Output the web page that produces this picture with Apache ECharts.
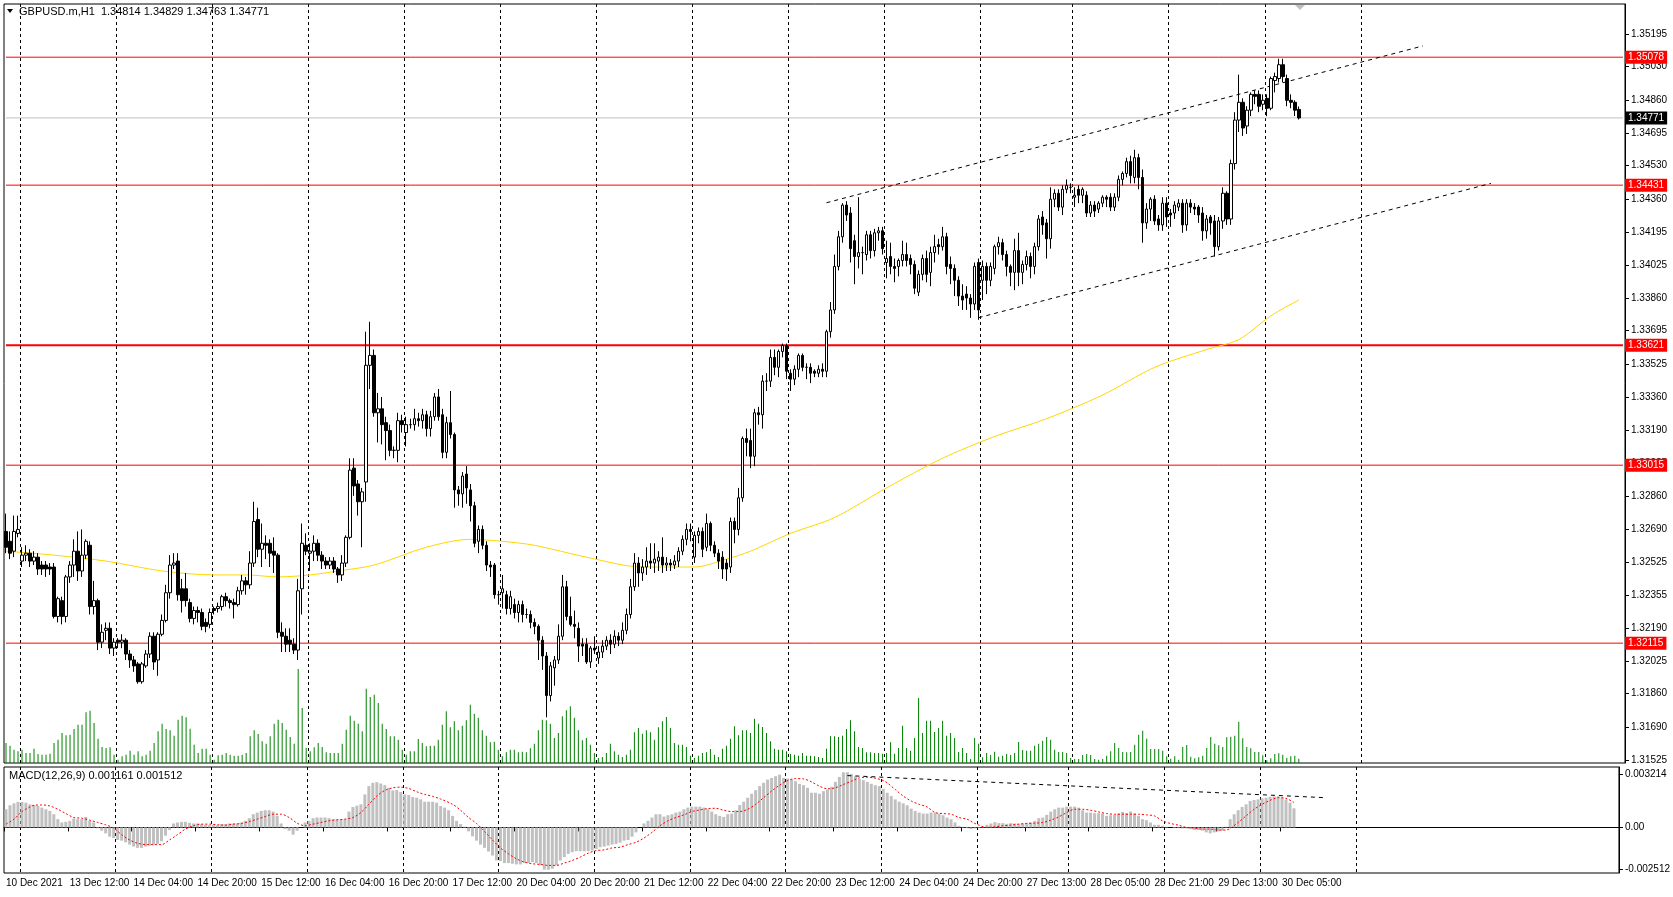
<!DOCTYPE html>
<html><head><meta charset="utf-8">
<script src="https://cdn.jsdelivr.net/npm/echarts@6/dist/echarts.min.js"></script>
<style>html,body{margin:0;padding:0;background:#fff;}#c{width:1673px;height:897px;}</style>
</head><body><div id="c"></div>
<script>
// ---- DATA ----
// candles: [open, close, low, high]
const candles = [
[1.3268,1.3260,1.3257,1.3277],[1.3263,1.3257,1.3254,1.3268],[1.3258,1.3268,1.3255,1.3276],[1.3267,1.3269,1.3265,1.3276],
[1.3253,1.3256,1.3250,1.3260],[1.3256,1.3257,1.3253,1.3261],[1.3257,1.3253,1.3250,1.3259],[1.3253,1.3255,1.3251,1.3258],
[1.3255,1.3249,1.3246,1.3257],[1.3251,1.3249,1.3246,1.3253],[1.3251,1.3249,1.3245,1.3253],[1.3250,1.3249,1.3246,1.3252],
[1.3250,1.3225,1.3224,1.3252],[1.3225,1.3234,1.3222,1.3235],[1.3233,1.3225,1.3221,1.3235],[1.3225,1.3245,1.3222,1.3246],
[1.3245,1.3251,1.3242,1.3253],[1.3251,1.3258,1.3245,1.3264],[1.3258,1.3248,1.3243,1.3268],[1.3248,1.3256,1.3245,1.3269],
[1.3256,1.3263,1.3254,1.3264],[1.3261,1.3230,1.3226,1.3263],[1.3230,1.3233,1.3226,1.3243],[1.3233,1.3212,1.3208,1.3234],
[1.3212,1.3217,1.3209,1.3221],[1.3218,1.3219,1.3213,1.3222],[1.3219,1.3209,1.3206,1.3222],[1.3209,1.3212,1.3205,1.3214],
[1.3213,1.3212,1.3209,1.3214],[1.3212,1.3213,1.3209,1.3216],[1.3213,1.3206,1.3203,1.3214],[1.3206,1.3203,1.3199,1.3208],
[1.3203,1.3200,1.3197,1.3205],[1.3201,1.3192,1.3191,1.3202],[1.3192,1.3201,1.3191,1.3202],[1.3200,1.3206,1.3199,1.3208],
[1.3206,1.3215,1.3204,1.3217],[1.3215,1.3202,1.3198,1.3217],[1.3203,1.3216,1.3195,1.3217],[1.3216,1.3223,1.3215,1.3226],
[1.3223,1.3237,1.3222,1.3241],[1.3237,1.3251,1.3234,1.3256],[1.3251,1.3252,1.3249,1.3257],[1.3253,1.3236,1.3233,1.3257],
[1.3239,1.3233,1.3227,1.3244],[1.3239,1.3233,1.3230,1.3247],[1.3232,1.3224,1.3222,1.3234],[1.3224,1.3228,1.3221,1.3230],
[1.3228,1.3227,1.3222,1.3230],[1.3227,1.3220,1.3218,1.3229],[1.3222,1.3220,1.3217,1.3224],[1.3221,1.3227,1.3219,1.3229],
[1.3229,1.3228,1.3226,1.3230],[1.3229,1.3230,1.3227,1.3232],[1.3230,1.3235,1.3228,1.3236],[1.3235,1.3233,1.3230,1.3237],
[1.3233,1.3232,1.3229,1.3234],[1.3232,1.3231,1.3224,1.3234],[1.3231,1.3238,1.3230,1.3240],[1.3238,1.3243,1.3236,1.3246],
[1.3243,1.3241,1.3236,1.3245],[1.3241,1.3252,1.3239,1.3258],[1.3252,1.3273,1.3250,1.3283],[1.3274,1.3259,1.3255,1.3280],
[1.3259,1.3262,1.3250,1.3272],[1.3262,1.3261,1.3254,1.3266],[1.3262,1.3257,1.3250,1.3264],[1.3258,1.3256,1.3247,1.3265],
[1.3256,1.3217,1.3214,1.3257],[1.3217,1.3215,1.3207,1.3222],[1.3215,1.3211,1.3207,1.3219],[1.3213,1.3211,1.3207,1.3219],
[1.3211,1.3208,1.3206,1.3214],[1.3208,1.3238,1.3203,1.3244],[1.3239,1.3262,1.3226,1.3272],[1.3261,1.3258,1.3256,1.3267],
[1.3257,1.3258,1.3248,1.3262],[1.3258,1.3262,1.3253,1.3266],[1.3262,1.3256,1.3253,1.3264],[1.3256,1.3253,1.3249,1.3258],
[1.3253,1.3251,1.3249,1.3255],[1.3251,1.3253,1.3249,1.3255],[1.3253,1.3249,1.3247,1.3255],[1.3249,1.3246,1.3242,1.3250],
[1.3246,1.3252,1.3243,1.3256],[1.3252,1.3265,1.3250,1.3266],[1.3265,1.3299,1.3264,1.3305],[1.3300,1.3291,1.3286,1.3305],
[1.3292,1.3283,1.3276,1.3294],[1.3283,1.3288,1.3260,1.3290],[1.3293,1.3352,1.3283,1.3369],[1.3352,1.3357,1.3340,1.3374],
[1.3357,1.3328,1.3326,1.3360],[1.3328,1.3330,1.3313,1.3338],[1.3330,1.3322,1.3312,1.3336],[1.3323,1.3319,1.3304,1.3326],
[1.3319,1.3309,1.3306,1.3322],[1.3309,1.3309,1.3305,1.3311],[1.3309,1.3324,1.3303,1.3328],[1.3324,1.3322,1.3318,1.3327],
[1.3318,1.3322,1.3311,1.3326],[1.3322,1.3322,1.3320,1.3325],[1.3322,1.3325,1.3319,1.3330],[1.3325,1.3324,1.3321,1.3328],
[1.3324,1.3327,1.3320,1.3330],[1.3327,1.3320,1.3316,1.3329],[1.3320,1.3326,1.3316,1.3329],[1.3326,1.3336,1.3324,1.3338],
[1.3336,1.3326,1.3324,1.3340],[1.3327,1.3308,1.3305,1.3330],[1.3308,1.3323,1.3305,1.3326],[1.3323,1.3317,1.3315,1.3339],
[1.3317,1.3289,1.3280,1.3318],[1.3289,1.3287,1.3281,1.3291],[1.3287,1.3296,1.3280,1.3298],[1.3297,1.3290,1.3282,1.3301],
[1.3289,1.3281,1.3273,1.3292],[1.3281,1.3262,1.3260,1.3283],[1.3263,1.3269,1.3257,1.3271],[1.3269,1.3261,1.3259,1.3271],
[1.3261,1.3251,1.3248,1.3263],[1.3251,1.3250,1.3245,1.3253],[1.3251,1.3236,1.3234,1.3252],[1.3236,1.3236,1.3231,1.3238],
[1.3237,1.3239,1.3229,1.3246],[1.3236,1.3229,1.3226,1.3238],[1.3229,1.3235,1.3226,1.3238],[1.3231,1.3227,1.3224,1.3234],
[1.3227,1.3231,1.3222,1.3233],[1.3231,1.3226,1.3222,1.3233],[1.3226,1.3226,1.3224,1.3229],[1.3226,1.3222,1.3219,1.3228],
[1.3222,1.3220,1.3216,1.3224],[1.3220,1.3213,1.3203,1.3221],[1.3213,1.3205,1.3198,1.3215],[1.3205,1.3185,1.3174,1.3207],
[1.3185,1.3200,1.3182,1.3202],[1.3199,1.3203,1.3190,1.3205],[1.3203,1.3215,1.3201,1.3221],[1.3215,1.3240,1.3213,1.3246],
[1.3240,1.3225,1.3223,1.3243],[1.3225,1.3221,1.3220,1.3235],[1.3221,1.3220,1.3214,1.3228],[1.3219,1.3210,1.3202,1.3222],
[1.3211,1.3210,1.3205,1.3214],[1.3211,1.3202,1.3201,1.3214],[1.3202,1.3209,1.3199,1.3210],[1.3209,1.3208,1.3206,1.3215],
[1.3204,1.3207,1.3201,1.3210],[1.3207,1.3210,1.3204,1.3213],[1.3210,1.3213,1.3208,1.3215],[1.3213,1.3211,1.3206,1.3216],
[1.3211,1.3215,1.3209,1.3218],[1.3215,1.3213,1.3210,1.3217],[1.3213,1.3218,1.3211,1.3222],[1.3218,1.3226,1.3216,1.3229],
[1.3226,1.3240,1.3224,1.3244],[1.3240,1.3252,1.3238,1.3257],[1.3252,1.3247,1.3240,1.3255],[1.3247,1.3250,1.3243,1.3254],
[1.3250,1.3253,1.3246,1.3260],[1.3253,1.3252,1.3249,1.3262],[1.3252,1.3254,1.3247,1.3262],[1.3253,1.3255,1.3248,1.3258],
[1.3255,1.3251,1.3247,1.3265],[1.3251,1.3252,1.3248,1.3255],[1.3252,1.3251,1.3248,1.3254],[1.3251,1.3253,1.3249,1.3256],
[1.3253,1.3258,1.3250,1.3260],[1.3258,1.3264,1.3256,1.3266],[1.3264,1.3269,1.3261,1.3272],[1.3269,1.3268,1.3263,1.3272],
[1.3255,1.3266,1.3252,1.3268],[1.3266,1.3268,1.3262,1.3270],[1.3268,1.3259,1.3255,1.3270],[1.3260,1.3272,1.3258,1.3277],
[1.3272,1.3261,1.3258,1.3273],[1.3261,1.3257,1.3255,1.3263],[1.3257,1.3253,1.3249,1.3259],[1.3255,1.3249,1.3244,1.3258],
[1.3252,1.3249,1.3243,1.3254],[1.3250,1.3273,1.3247,1.3275],[1.3273,1.3269,1.3262,1.3275],[1.3269,1.3285,1.3266,1.3290],
[1.3285,1.3315,1.3283,1.3316],[1.3315,1.3313,1.3306,1.3320],[1.3314,1.3306,1.3300,1.3320],[1.3306,1.3328,1.3301,1.3330],
[1.3328,1.3327,1.3322,1.3331],[1.3327,1.3344,1.3320,1.3347],[1.3344,1.3344,1.3339,1.3348],[1.3344,1.3356,1.3341,1.3360],
[1.3356,1.3351,1.3347,1.3360],[1.3351,1.3359,1.3346,1.3360],[1.3359,1.3362,1.3356,1.3363],[1.3362,1.3349,1.3345,1.3363],
[1.3348,1.3345,1.3339,1.3350],[1.3345,1.3350,1.3342,1.3352],[1.3350,1.3357,1.3346,1.3358],[1.3357,1.3351,1.3349,1.3358],
[1.3351,1.3351,1.3345,1.3353],[1.3351,1.3348,1.3343,1.3353],[1.3349,1.3348,1.3346,1.3350],[1.3348,1.3350,1.3346,1.3352],
[1.3350,1.3349,1.3346,1.3353],[1.3349,1.3369,1.3346,1.3370],[1.3369,1.3380,1.3366,1.3384],[1.3380,1.3402,1.3378,1.3408],
[1.3402,1.3417,1.3400,1.3420],[1.3417,1.3433,1.3414,1.3434],[1.3433,1.3428,1.3425,1.3435],[1.3429,1.3411,1.3404,1.3432],
[1.3415,1.3407,1.3393,1.3418],[1.3407,1.3409,1.3401,1.3437],[1.3409,1.3409,1.3398,1.3412],[1.3408,1.3418,1.3405,1.3420],
[1.3418,1.3410,1.3406,1.3420],[1.3410,1.3419,1.3407,1.3421],[1.3419,1.3420,1.3415,1.3422],[1.3420,1.3411,1.3408,1.3422],
[1.3404,1.3406,1.3396,1.3415],[1.3407,1.3402,1.3398,1.3414],[1.3402,1.3401,1.3394,1.3406],[1.3402,1.3405,1.3397,1.3406],
[1.3405,1.3408,1.3402,1.3415],[1.3408,1.3405,1.3402,1.3414],[1.3406,1.3403,1.3398,1.3408],[1.3403,1.3391,1.3388,1.3405],
[1.3389,1.3398,1.3387,1.3400],[1.3398,1.3406,1.3395,1.3408],[1.3406,1.3398,1.3394,1.3410],[1.3399,1.3409,1.3392,1.3412],
[1.3409,1.3412,1.3404,1.3418],[1.3413,1.3412,1.3408,1.3416],[1.3412,1.3417,1.3410,1.3422],[1.3417,1.3402,1.3398,1.3419],
[1.3403,1.3401,1.3393,1.3407],[1.3401,1.3395,1.3387,1.3403],[1.3395,1.3387,1.3382,1.3397],[1.3387,1.3385,1.3380,1.3393],
[1.3388,1.3386,1.3380,1.3392],[1.3386,1.3383,1.3376,1.3388],[1.3383,1.3402,1.3380,1.3404],[1.3404,1.3380,1.3375,1.3406],
[1.3395,1.3402,1.3385,1.3405],[1.3402,1.3395,1.3388,1.3404],[1.3395,1.3402,1.3392,1.3404],[1.3401,1.3412,1.3398,1.3413],
[1.3412,1.3414,1.3408,1.3417],[1.3414,1.3408,1.3405,1.3416],[1.3408,1.3402,1.3397,1.3410],[1.3402,1.3399,1.3392,1.3403],
[1.3399,1.3410,1.3390,1.3416],[1.3410,1.3399,1.3392,1.3419],[1.3399,1.3403,1.3393,1.3405],[1.3403,1.3407,1.3400,1.3410],
[1.3407,1.3402,1.3396,1.3409],[1.3402,1.3412,1.3398,1.3414],[1.3412,1.3426,1.3410,1.3428],[1.3427,1.3423,1.3418,1.3430],
[1.3424,1.3416,1.3406,1.3426],[1.3416,1.3436,1.3411,1.3442],[1.3436,1.3439,1.3432,1.3441],[1.3439,1.3432,1.3430,1.3441],
[1.3432,1.3441,1.3428,1.3443],[1.3441,1.3443,1.3439,1.3446],[1.3442,1.3442,1.3439,1.3444],[1.3437,1.3438,1.3432,1.3442],
[1.3441,1.3438,1.3434,1.3443],[1.3438,1.3441,1.3434,1.3442],[1.3438,1.3429,1.3427,1.3440],[1.3429,1.3433,1.3427,1.3435],
[1.3433,1.3430,1.3427,1.3435],[1.3431,1.3434,1.3429,1.3435],[1.3434,1.3437,1.3432,1.3438],[1.3437,1.3436,1.3432,1.3438],
[1.3437,1.3432,1.3430,1.3439],[1.3432,1.3437,1.3430,1.3439],[1.3437,1.3446,1.3435,1.3448],[1.3446,1.3449,1.3443,1.3450],
[1.3449,1.3455,1.3447,1.3457],[1.3455,1.3448,1.3444,1.3458],[1.3447,1.3457,1.3444,1.3461],[1.3457,1.3447,1.3441,1.3459],
[1.3447,1.3424,1.3414,1.3451],[1.3424,1.3431,1.3421,1.3434],[1.3431,1.3436,1.3425,1.3437],[1.3436,1.3425,1.3423,1.3438],
[1.3426,1.3423,1.3420,1.3428],[1.3423,1.3434,1.3420,1.3437],[1.3434,1.3427,1.3422,1.3437],[1.3429,1.3428,1.3422,1.3431],
[1.3429,1.3433,1.3426,1.3435],[1.3432,1.3434,1.3430,1.3436],[1.3434,1.3423,1.3419,1.3436],[1.3423,1.3434,1.3420,1.3436],
[1.3434,1.3432,1.3429,1.3436],[1.3432,1.3431,1.3428,1.3434],[1.3432,1.3428,1.3424,1.3433],[1.3429,1.3420,1.3415,1.3432],
[1.3420,1.3426,1.3416,1.3428],[1.3427,1.3424,1.3418,1.3428],[1.3425,1.3412,1.3407,1.3428],[1.3412,1.3425,1.3410,1.3427],
[1.3425,1.3439,1.3421,1.3442],[1.3439,1.3426,1.3423,1.3440],[1.3426,1.3454,1.3423,1.3456],[1.3454,1.3476,1.3451,1.3480],
[1.3476,1.3485,1.3470,1.3499],[1.3485,1.3472,1.3468,1.3487],[1.3473,1.3481,1.3469,1.3483],[1.3481,1.3489,1.3478,1.3490],
[1.3489,1.3488,1.3484,1.3491],[1.3489,1.3483,1.3480,1.3491],[1.3484,1.3486,1.3481,1.3489],[1.3487,1.3482,1.3478,1.3489],
[1.3482,1.3497,1.3481,1.3498],[1.3496,1.3498,1.3490,1.3500],[1.3497,1.3504,1.3495,1.3507],[1.3504,1.3498,1.3495,1.3507],
[1.3497,1.3486,1.3483,1.3499],[1.3486,1.3485,1.3482,1.3489],[1.3485,1.3481,1.3478,1.3486],[1.34814,1.34771,1.34763,1.34829]
];
const volumes = [
60,52,40,35,40,30,30,43,27,25,25,28,60,70,90,83,85,102,115,115,152,157,120,73,48,45,47,25,10,20,25,37,25,35,20,25,37,60,95,118,
102,98,82,130,142,137,103,55,30,43,43,25,10,23,25,30,25,22,22,25,30,80,98,87,65,58,80,118,130,120,100,78,58,282,165,45,35,47,60,48,
32,30,30,30,58,100,142,127,118,95,223,198,205,180,118,102,80,80,70,40,25,35,35,72,60,50,52,52,70,115,155,
107,125,98,112,128,175,148,136,98,82,62,64,40,20,32,40,40,32,34,32,44,58,98,130,128,118,75,90,140,158,170,136,98,68,75,55,30,15,18,30,
58,35,25,18,25,40,92,105,88,98,92,70,107,125,138,105,60,55,55,48,22,15,22,30,32,42,25,18,43,52,73,110,83,98,98,90,133,118,108,90,
65,43,40,40,35,27,25,22,30,22,22,20,18,15,43,80,80,78,82,102,128,95,48,45,32,32,30,30,28,30,62,
28,45,112,45,37,75,195,90,127,127,93,105,127,82,90,75,33,45,30,12,75,58,17,30,24,34,19,22,27,24,30,63,39,37,37,52,58,67,78,70,
40,33,33,30,15,12,12,24,27,24,12,10,12,22,35,60,45,33,32,33,55,85,97,73,42,42,42,37,20,13,20,10,48,54,19,14,17,22,45,78,
58,53,48,77,79,82,124,74,48,44,33,33,23,8,14,27,29,25,15,20,22,13
];
// MACD histogram and signal, in units of 0.00001
const macdHistE5 = [
110,134,146,154,154,150,140,136,130,120,110,100,80,50,30,34,40,54,50,50,64,40,30,-6,-20,-36,-56,-64,-76,-80,
-90,-104,-116,-124,-124,-116,-110,-104,-100,-84,-50,-16,24,30,34,34,28,24,24,20,16,14,16,14,20,20,24,24,24,30,
40,56,80,90,100,104,104,96,70,24,-10,-20,-44,-20,0,30,40,56,60,60,60,56,50,50,48,50,96,124,132,140,
200,250,270,274,266,256,240,224,226,214,200,196,184,180,170,156,156,156,150,130,120,
104,70,40,20,4,-24,-54,-80,-104,-124,-146,-170,-200,-204,-216,-216,-220,-224,-224,-216,-216,-210,-216,-230,-256,-256,-250,-230,-200,-180,
-160,-150,-144,-144,-144,-144,-140,-130,-120,-116,-110,-104,-100,-92,-80,-76,-56,-30,0,24,40,60,80,80,66,74,80,90,96,110,
120,126,126,126,120,110,96,80,70,64,80,84,104,136,156,180,204,226,250,270,290,300,310,320,300,296,290,280,264,256,
240,210,210,204,220,230,246,276,306,334,334,324,310,294,286,276,264,256,250,234,210,
190,170,156,146,134,114,100,90,84,84,90,90,84,74,60,50,30,10,4,-4,-10,-6,-4,4,16,24,32,26,26,22,
26,24,22,24,28,30,40,56,60,76,96,110,120,120,126,126,126,120,104,90,90,86,86,84,70,74,76,84,94,86,
96,84,70,50,44,30,16,16,10,4,0,-4,-4,-6,-6,-10,-16,-16,-20,-30,-36,-30,-24,-20,4,50,80,104,124,140,
160,166,170,176,180,186,188,188,180,170,150,116
];
const signalPtsE5 = [
[0,20],[2,50],[4,96],[6,124],[7,134],[9,136],[11,130],[13,110],[15,84],[17,60],[19,56],[21,44],[23,30],[25,16],[27,-4],[29,-44],
[31,-76],[33,-96],[35,-104],[37,-104],[39,-104],[41,-76],[43,-44],[45,-10],[47,10],[49,20],[51,20],[53,16],[55,14],[57,20],[59,24],
[61,36],[63,50],[65,66],[67,80],[69,80],[71,60],[73,26],[75,10],[77,20],[79,30],[81,40],[83,46],[85,50],[87,60],[89,90],[91,140],
[93,190],[95,224],[97,240],[99,244],[101,236],[103,216],[105,200],[107,188],[109,172],[112,140],[114,104],[116,60],[118,24],[120,-24],
[122,-76],[124,-124],[126,-160],[128,-190],[130,-210],[132,-220],[134,-224],[136,-230],[138,-230],[140,-216],[142,-200],[144,-180],
[146,-156],[148,-140],[150,-136],[152,-124],[154,-120],[156,-104],[158,-90],[160,-64],[162,-30],[164,10],[166,40],[168,60],[170,76],
[172,96],[174,106],[176,114],[178,116],[180,104],[182,96],[184,96],[186,110],[188,140],[190,180],[192,220],[194,256],[196,284],
[198,296],[200,294],[202,276],[204,250],[206,234],[208,240],[210,260],[212,280],[214,300],[216,304],[218,298],[220,284],[221,270],
[223,230],[225,190],[227,160],[229,140],[231,124],[233,90],[235,84],[237,80],[239,60],[241,50],[243,24],[246,0],[248,4],[250,10],
[252,14],[254,20],[256,24],[258,26],[260,30],[262,44],[264,64],[266,90],[268,110],[270,110],[272,104],[274,94],[276,84],[278,80],
[280,80],[282,80],[284,80],[286,76],[288,70],[290,40],[292,24],[294,14],[296,0],[298,-4],[300,-10],[302,-10],[304,-16],[306,-16],
[307,-6],[309,30],[311,70],[313,110],[315,140],[317,164],[319,180],[321,176],[323,151]
];
const maPts = [[0,1.3258],[12,1.3256],[25,1.3253],[39,1.3248],[52,1.3246],[60,1.3246],[68,1.3245],[76,1.3246],[83,1.3248],[92,1.3251],
[105,1.3260],[116,1.3264],[124,1.3263],[132,1.3261],[145,1.3255],[159,1.3250],[172,1.3250],[180,1.3254],[186,1.3258],[196,1.3267],
[207,1.3275],[220,1.3290],[234,1.3305],[247,1.3316],[260,1.3325],[274,1.3337],[287,1.3351],[300,1.3360],[308,1.3365],[316,1.3377],[323,1.3385]];
const trendUpper = [[205,1.34342],[354,1.35135]];
const trendLower = [[243,1.33761],[371,1.34440]];
const macdTrendE5 = [[211,314],[331,180]];
const redLevels = [1.35078,1.34431,1.33621,1.33015,1.32115];
const redWidths = [1,1,2,1,1];
const currentPrice = 1.34771;
const priceTicks = [1.35195,1.35030,1.34860,1.34695,1.34530,1.34360,1.34195,1.34025,1.33860,1.33695,1.33525,1.33360,1.33190,1.33025,1.32860,1.32690,1.32525,1.32355,1.32190,1.32025,1.31860,1.31690,1.31525];
const macdTicksE5 = [321.4,0,-251.2];
const dateLabels = ['10 Dec 2021','13 Dec 12:00','14 Dec 04:00','14 Dec 20:00','15 Dec 12:00','16 Dec 04:00','16 Dec 20:00','17 Dec 12:00','20 Dec 04:00','20 Dec 20:00','21 Dec 12:00','22 Dec 04:00','22 Dec 20:00','23 Dec 12:00','24 Dec 04:00','24 Dec 20:00','27 Dec 13:00','28 Dec 05:00','28 Dec 21:00','29 Dec 13:00','30 Dec 05:00'];
const daySeparators = [4,28,52,76,100,124,148,172,196,220,244,267,291,315,339];

// ---- CHART ----
const SLOTS = 405;
const cats = Array.from({length: SLOTS}, (_, i) => String(i));
const daySet = new Set(daySeparators);
const E5 = 1e-5;
const font = 'Liberation Sans';
const levelSeries = (v, color, w, bg) => ({
  type: 'line', xAxisIndex: 0, yAxisIndex: 0, data: [[0, v], [SLOTS - 1, v]], showSymbol: false, silent: true, z: 1,
  lineStyle: {color: color, width: w},
  endLabel: {show: true, distance: 2, formatter: v.toFixed(5), color: '#fff', backgroundColor: bg, padding: [2, 3, 1, 3], fontSize: 10, fontFamily: font}
});
const chart = echarts.init(document.getElementById('c'), null, {renderer: 'canvas'});
const splitL = {show: true, interval: (i) => daySet.has(i), lineStyle: {color: '#000', type: [3, 3], width: 1}};
const series = [
  {type: 'bar', name: 'vol', xAxisIndex: 0, yAxisIndex: 1, data: volumes, barWidth: 1, itemStyle: {color: '#008000'}, silent: true},
  levelSeries(currentPrice, '#c0c0c0', 1, '#000'),
  ...redLevels.map((v, i) => levelSeries(v, '#ff0000', redWidths[i], '#ff0000')),
  {type: 'line', name: 'ma', xAxisIndex: 0, yAxisIndex: 0, data: maPts, showSymbol: false, smooth: 0.3, lineStyle: {color: '#ffd700', width: 1}, silent: true},
  {type: 'candlestick', xAxisIndex: 0, yAxisIndex: 0, data: candles, barWidth: 3, z: 3,
   itemStyle: {color: '#ffffff', color0: '#000000', borderColor: '#000000', borderColor0: '#000000', borderWidth: 1}},
  {type: 'line', xAxisIndex: 0, yAxisIndex: 0, data: trendUpper, showSymbol: false, lineStyle: {color: '#000', width: 1, type: [4, 4]}, silent: true},
  {type: 'line', xAxisIndex: 0, yAxisIndex: 0, data: trendLower, showSymbol: false, lineStyle: {color: '#000', width: 1, type: [4, 4]}, silent: true},
  {type: 'bar', xAxisIndex: 1, yAxisIndex: 2, data: macdHistE5, barWidth: 3, itemStyle: {color: '#c0c0c0'}, silent: true},
  {type: 'line', xAxisIndex: 1, yAxisIndex: 2, data: signalPtsE5, showSymbol: false, smooth: 0.3, lineStyle: {color: '#ff0000', width: 1, type: [2, 2]}, silent: true},
  {type: 'line', xAxisIndex: 1, yAxisIndex: 2, data: macdTrendE5, showSymbol: false, lineStyle: {color: '#000', width: 1, type: [4, 4]}, silent: true}
];
chart.setOption({
  animation: false,
  backgroundColor: '#fff',
  grid: [
    {left: 4, top: 4, width: 1621, height: 759, show: true, borderColor: '#000', borderWidth: 1},
    {left: 4, top: 767, width: 1621, height: 106, show: true, borderColor: '#000', borderWidth: 1}
  ],
  xAxis: [
    {type: 'category', gridIndex: 0, data: cats, boundaryGap: true, axisLine: {show: false}, axisTick: {show: false}, axisLabel: {show: false}, splitLine: splitL},
    {type: 'category', gridIndex: 1, data: cats, boundaryGap: true, axisLine: {show: true, lineStyle: {color: '#000'}},
     axisTick: {show: true, interval: (i) => i % 16 === 0 && i <= 320, length: 4, lineStyle: {color: '#000'}},
     axisLabel: {show: true, hideOverlap: false, interval: (i) => i % 16 === 0 && i <= 320, formatter: (v, i) => dateLabels[Math.round(+v / 16)] || '', align: 'left', margin: 5, fontSize: 10, fontFamily: font, color: '#000'},
     splitLine: splitL}
  ],
  yAxis: [
    {type: 'value', gridIndex: 0, position: 'right', min: 1.31509, max: 1.35347,
     axisLine: {show: true, lineStyle: {color: '#000'}}, splitLine: {show: false},
     axisTick: {show: true, customValues: priceTicks, length: 4, lineStyle: {color: '#000'}},
     axisLabel: {customValues: priceTicks, formatter: (v) => v.toFixed(5), fontSize: 10, fontFamily: font, color: '#000', margin: 6}},
    {type: 'value', gridIndex: 0, min: 0, max: 2277, show: false, splitLine: {show: false}},
    {type: 'value', gridIndex: 1, position: 'right', min: -276, max: 366,
     axisLine: {show: true, lineStyle: {color: '#000'}}, splitLine: {show: false},
     axisTick: {show: true, customValues: macdTicksE5, length: 4, lineStyle: {color: '#000'}},
     axisLabel: {customValues: macdTicksE5, formatter: (v) => Math.abs(v) < 1e-9 ? '0.00' : (v * E5).toFixed(6), fontSize: 10, fontFamily: font, color: '#000', margin: 6}}
  ],
  series: series,
  graphic: [
    {type: 'polygon', shape: {points: [[7, 9], [13, 9], [10, 13]]}, style: {fill: '#000'}},
    {type: 'text', left: 19, top: 6, style: {text: 'GBPUSD.m,H1  1.34814 1.34829 1.34763 1.34771', font: '11px "Liberation Sans"', fill: '#000'}},
    {type: 'text', left: 9, top: 770, style: {text: 'MACD(12,26,9) 0.001161 0.001512', font: '11px "Liberation Sans"', fill: '#000'}},
    {type: 'polygon', shape: {points: [[1295, 5], [1305, 5], [1300, 10]]}, style: {fill: '#c0c0c0'}}
  ]
});
</script></body></html>
